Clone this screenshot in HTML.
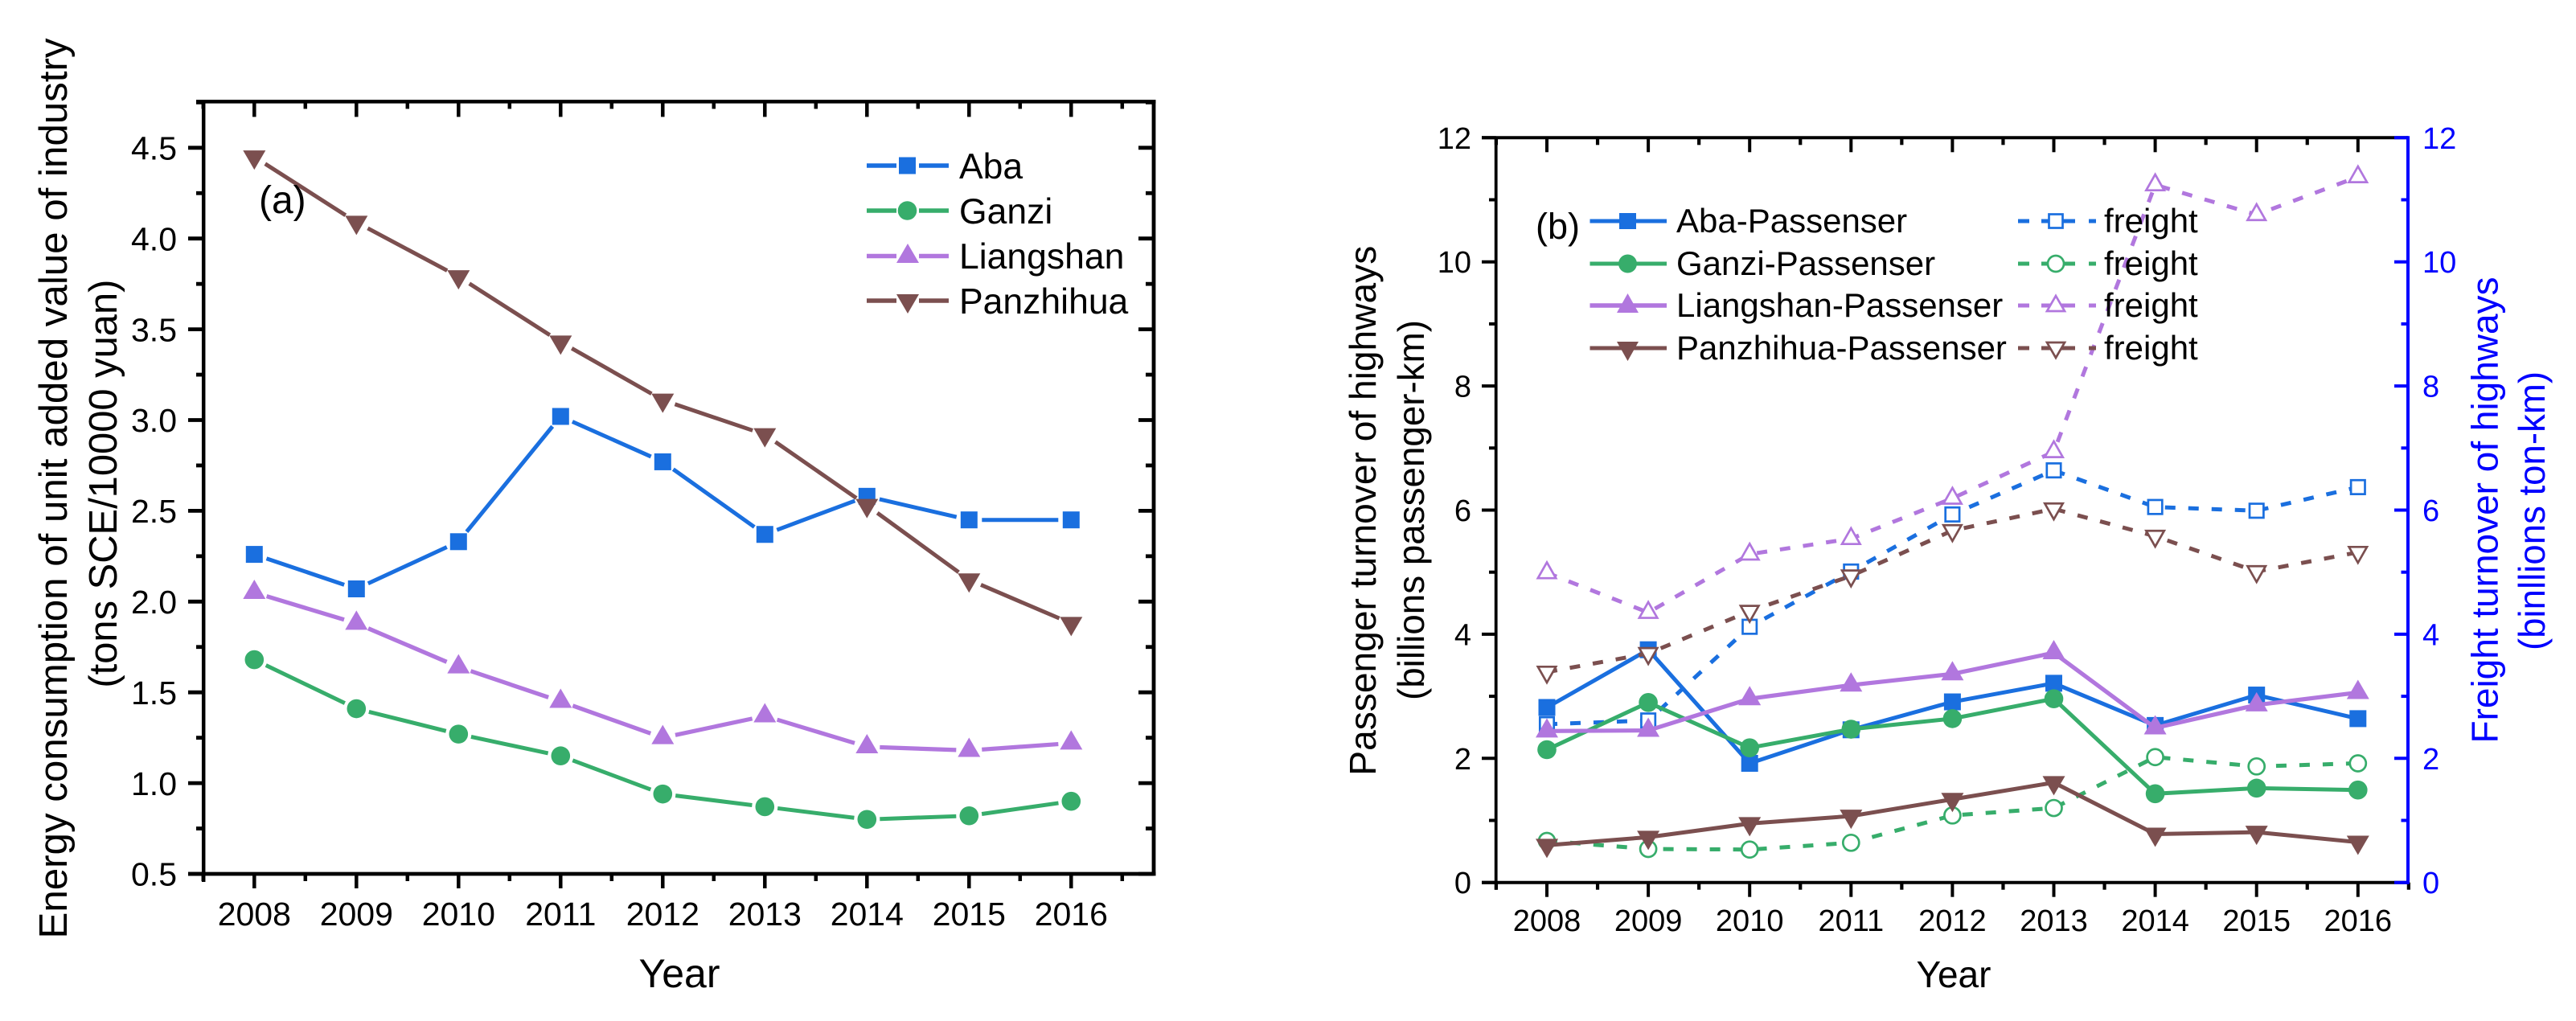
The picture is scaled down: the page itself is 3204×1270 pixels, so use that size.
<!DOCTYPE html>
<html lang="en">
<head>
<meta charset="utf-8">
<title>Energy consumption and highway turnover charts</title>
<style>
html,body{margin:0;padding:0;background:#fff;}
svg{display:block;}
text{font-family:"Liberation Sans",Arial,sans-serif;fill:#000;}
.blue{fill:#0000ff;}
</style>
</head>
<body>
<svg id="figure" xmlns="http://www.w3.org/2000/svg" width="3204" height="1270" viewBox="0 0 3204 1270">
  <rect x="0" y="0" width="3204" height="1270" fill="#ffffff"/>

  <g id="chart-a">
    <g id="axes-a"></g>
    <g id="marks-a"></g>
    <text transform="translate(83,1167.5) rotate(-90)" font-size="49" textLength="1120" lengthAdjust="spacingAndGlyphs">Energy consumption of unit added value of industry</text>
    <text transform="translate(145,855.6) rotate(-90)" font-size="49" textLength="508" lengthAdjust="spacingAndGlyphs">(tons SCE/10000 yuan)</text>
    <text x="845" y="1228" font-size="50" text-anchor="middle">Year</text>
    <text x="322" y="265" font-size="48">(a)</text>
    <g>
      <g>
        <path d="M1078 206H1115M1143 206H1180" stroke="#1a6fdf" stroke-width="5.500" fill="none"/>
        <rect x="1118" y="195.500" width="21" height="21" fill="#1a6fdf"/>
        <text x="1193" y="222" font-size="44.500">Aba</text>
      </g>
      <g>
        <path d="M1078 262H1115M1143 262H1180" stroke="#37ad6b" stroke-width="5.500" fill="none"/>
        <circle cx="1128.500" cy="262" r="11.800" fill="#37ad6b"/>
        <text x="1193" y="278" font-size="44.500">Ganzi</text>
      </g>
      <g>
        <path d="M1078 318.500H1115M1143 318.500H1180" stroke="#b177de" stroke-width="5.500" fill="none"/>
        <polygon points="1129,303 1143,327 1115,327" fill="#b177de"/>
        <text x="1193" y="334" font-size="44.500">Liangshan</text>
      </g>
      <g>
        <path d="M1078 374H1115M1143 374H1180" stroke="#7b4f4f" stroke-width="5.500" fill="none"/>
        <polygon points="1115,366 1143,366 1129,390" fill="#7b4f4f"/>
        <text x="1193" y="390" font-size="44.500">Panzhihua</text>
      </g>
    </g>
  </g>

  <g id="chart-b">
    <g id="axes-b"></g>
    <g id="marks-b"></g>
    <text transform="translate(1711,964.7) rotate(-90)" font-size="46" textLength="659" lengthAdjust="spacingAndGlyphs">Passenger turnover of highways</text>
    <text transform="translate(1771,871) rotate(-90)" font-size="46" textLength="473" lengthAdjust="spacingAndGlyphs">(billions passenger-km)</text>
    <text class="blue" transform="translate(3106.600,924.500) rotate(-90)" font-size="46" textLength="580" lengthAdjust="spacingAndGlyphs">Freight turnover of highways</text>
    <text class="blue" transform="translate(3165,809) rotate(-90)" font-size="46" textLength="347" lengthAdjust="spacingAndGlyphs">(binllions ton-km)</text>
    <text x="2430" y="1228" font-size="46" text-anchor="middle">Year</text>
    <text x="1910" y="297" font-size="45">(b)</text>
    <g>
      <g>
        <path d="M1977.500 275H2073" stroke="#1a6fdf" stroke-width="5" fill="none"/>
        <rect x="2014" y="265" width="21" height="20" fill="#1a6fdf"/>
        <text x="2085" y="289" font-size="42">Aba-Passenser</text>
      </g>
      <g>
        <path d="M1977.500 328H2073" stroke="#37ad6b" stroke-width="5" fill="none"/>
        <circle cx="2024.500" cy="328" r="11.500" fill="#37ad6b"/>
        <text x="2085" y="342" font-size="42">Ganzi-Passenser</text>
      </g>
      <g>
        <path d="M1977.500 380H2073" stroke="#b177de" stroke-width="5.500" fill="none"/>
        <polygon points="2024.500,365 2038,389 2011,389" fill="#b177de"/>
        <text x="2085" y="394" font-size="42">Liangshan-Passenser</text>
      </g>
      <g>
        <path d="M1977.500 433H2073" stroke="#7b4f4f" stroke-width="5" fill="none"/>
        <polygon points="2011,425 2038,425 2024.500,449" fill="#7b4f4f"/>
        <text x="2085" y="447" font-size="42">Panzhihua-Passenser</text>
      </g>
      <g>
        <path d="M2510 275H2524M2539 275H2581M2598 275H2607" stroke="#1a6fdf" stroke-width="5" fill="none"/>
        <rect x="2548.500" y="266.500" width="17" height="17" fill="#fff" stroke="#1a6fdf" stroke-width="2.700"/>
        <text x="2617" y="289" font-size="42">freight</text>
      </g>
      <g>
        <path d="M2510 328H2524M2539 328H2581M2598 328H2607" stroke="#37ad6b" stroke-width="5" fill="none"/>
        <circle cx="2557" cy="328" r="10" fill="#fff" stroke="#37ad6b" stroke-width="2.700"/>
        <text x="2617" y="342" font-size="42">freight</text>
      </g>
      <g>
        <path d="M2510 380H2524M2539 380H2581M2598 380H2607" stroke="#b177de" stroke-width="5" fill="none"/>
        <polygon points="2557,368 2568,387 2546,387" fill="#fff" stroke="#b177de" stroke-width="2.700"/>
        <text x="2617" y="394" font-size="42">freight</text>
      </g>
      <g>
        <path d="M2510 433H2524M2539 433H2581M2598 433H2607" stroke="#7b4f4f" stroke-width="5" fill="none"/>
        <polygon points="2546,426 2568,426 2557,445" fill="#fff" stroke="#7b4f4f" stroke-width="2.700"/>
        <text x="2617" y="447" font-size="42">freight</text>
      </g>
    </g>
  </g>
</svg>

<script>
// Shared categories
const years = [2008, 2009, 2010, 2011, 2012, 2013, 2014, 2015, 2016];
const minorYears = [2007.5, 2008.5, 2009.5, 2010.5, 2011.5, 2012.5, 2013.5, 2014.5, 2015.5, 2016.5];

// Chart (a): energy consumption
const aTickLabels = ['0.5', '1.0', '1.5', '2.0', '2.5', '3.0', '3.5', '4.0', '4.5'];
const aMinorTicks = [0.75, 1.25, 1.75, 2.25, 2.75, 3.25, 3.75, 4.25, 4.75];
const aAba = [2.26, 2.07, 2.33, 3.02, 2.77, 2.37, 2.58, 2.45, 2.45];
const aGanzi = [1.68, 1.41, 1.27, 1.15, 0.94, 0.87, 0.80, 0.82, 0.90];
const aLiangshan = [2.05, 1.88, 1.64, 1.45, 1.25, 1.37, 1.20, 1.18, 1.22];
const aPanzhihua = [4.45, 4.09, 3.79, 3.43, 3.11, 2.92, 2.53, 2.12, 1.88];

// Chart (b): passenger turnover (left axis)
const bTickLabels = ['0', '2', '4', '6', '8', '10', '12'];
const bMinorTicks = [1, 3, 5, 7, 9, 11];
const bAbaPassenger = [2.82, 3.75, 1.92, 2.46, 2.91, 3.21, 2.53, 3.02, 2.64];
const bGanziPassenger = [2.14, 2.90, 2.17, 2.47, 2.64, 2.96, 1.43, 1.52, 1.49];
const bLiangshanPassenger = [2.44, 2.45, 2.96, 3.18, 3.36, 3.70, 2.49, 2.86, 3.06];
const bPanzhihuaPassenger = [0.60, 0.73, 0.95, 1.07, 1.34, 1.61, 0.78, 0.81, 0.65];

// Chart (b): freight turnover (right axis)
const bAbaFreight = [2.55, 2.61, 4.12, 5.01, 5.93, 6.64, 6.05, 5.99, 6.37];
const bGanziFreight = [0.67, 0.54, 0.53, 0.64, 1.08, 1.20, 2.02, 1.87, 1.92];
const bLiangshanFreight = [4.99, 4.35, 5.29, 5.54, 6.19, 6.94, 11.24, 10.76, 11.37];
const bPanzhihuaFreight = [3.39, 3.69, 4.37, 4.94, 5.67, 6.02, 5.58, 5.01, 5.32];

const BLUE = '#1a6fdf', GREEN = '#37ad6b', PURPLE = '#b177de', BROWN = '#7b4f4f';
const NS = 'http://www.w3.org/2000/svg';

// Axis functions
function xA(year) { return 316.3 + (year - 2008) * 127; }
function yA(v) { return 1087 - (v - 0.5) * 225.8; }
function xB(year) { return 1924 + (year - 2008) * 126.1; }
function yB(v) { return 1097.7 - v * 77.2; }

function mk(tag, props, parent) {
  const el = document.createElementNS(NS, tag);
  for (const k in props) { el.setAttribute(k, props[k]); }
  parent.appendChild(el);
  return el;
}

function hLine(parent, x1, x2, y, color, w, name) {
  const el = mk('line', { x1: x1, x2: x2, y1: y, y2: y, stroke: color, 'stroke-width': w }, parent);
  
  
}

function vLine(parent, x, y1, y2, color, w, name) {
  const el = mk('line', { x1: x, x2: x, y1: y1, y2: y2, stroke: color, 'stroke-width': w }, parent);
  
  
}

function label(parent, x, y, str, size, anchor, color, name) {
  const el = mk('text', { x: x, y: y, 'font-size': size, 'text-anchor': anchor, style: 'fill:' + color }, parent);
  el.textContent = str;
  
  
}

// Draw one marker; shape and fill come from the series style
function marker(parent, shape, filled, x, y, color, name) {
  const sw = filled ? 0 : 2.7;
  const paint = { fill: filled ? color : '#ffffff', stroke: filled ? 'none' : color, 'stroke-width': sw };
  let el;
  if (shape === 'square') {
    const h = filled ? 10.5 : 8.7;
    el = mk('rect', Object.assign({ x: x - h, y: y - h, width: 2 * h, height: 2 * h }, paint), parent);
  } else if (shape === 'circle') {
    el = mk('circle', Object.assign({ cx: x, cy: y, r: filled ? 11.8 : 10 }, paint), parent);
  } else {
    const dir = shape === 'up' ? 1 : -1;
    const hw = filled ? 14 : 11.2;
    const apex = filled ? 16 : 13;
    const base = filled ? 8 : 6.7;
    const pts = [[x, y - dir * apex], [x + hw, y + dir * base], [x - hw, y + dir * base]];
    el = mk('polygon', Object.assign({ points: pts.map(p => p.join(',')).join(' ') }, paint), parent);
  }
  
  
}

// ---------- Chart (a) axes ----------
const axA = document.getElementById('axes-a');
const aLeft = 253.2, aRight = 1435, aTop = 126.4, aBottom = yA(0.5);
hLine(axA, 234, aRight + 2.5, aBottom, '#000', 4.8, 'chart-a-x-axis-line');
hLine(axA, 244, aRight + 2.5, aTop, '#000', 4.5, 'chart-a-top-axis-line');
vLine(axA, aLeft, aTop, aBottom + 10, '#000', 4.5, 'chart-a-y-axis-line');
vLine(axA, aRight, aTop, aBottom, '#000', 4.8, 'chart-a-right-axis-line');
years.forEach(function (yr) {
  vLine(axA, xA(yr), aBottom, aBottom + 18, '#000', 4.5, 'chart-a-x-tick');
  vLine(axA, xA(yr), aTop, aTop + 19, '#000', 4.5, 'chart-a-top-tick');
  label(axA, xA(yr), 1151, String(yr), 41, 'middle', '#000', 'chart-a-x-tick-label');
});
minorYears.forEach(function (yr) {
  vLine(axA, xA(yr), aBottom, aBottom + 9, '#000', 4.5, 'chart-a-x-minor-tick');
  vLine(axA, xA(yr), aTop, aTop + 9, '#000', 4.5, 'chart-a-top-minor-tick');
});
aTickLabels.forEach(function (txt) {
  const v = parseFloat(txt);
  hLine(axA, 234, aLeft, yA(v), '#000', 4.8, 'chart-a-y-tick');
  hLine(axA, aRight - 19, aRight, yA(v), '#000', 4.8, 'chart-a-right-tick');
  label(axA, 220, yA(v) + 14.7, txt, 41, 'end', '#000', 'chart-a-y-tick-label');
});
aMinorTicks.forEach(function (v) {
  hLine(axA, 244, aLeft, yA(v), '#000', 4.8, 'chart-a-y-minor-tick');
  hLine(axA, aRight - 10, aRight, yA(v), '#000', 4.8, 'chart-a-right-minor-tick');
});

// ---------- Chart (a) series: lines stop short of each marker ----------
const marksA = document.getElementById('marks-a');
function drawSeriesA(values, color, shape, width, name) {
  const g = mk('g', {}, marksA);
  
  
  const gap = 16;
  for (let i = 0; i < values.length - 1; i++) {
    const x1 = xA(years[i]), y1 = yA(values[i]);
    const x2 = xA(years[i + 1]), y2 = yA(values[i + 1]);
    const len = Math.hypot(x2 - x1, y2 - y1);
    const ux = (x2 - x1) / len, uy = (y2 - y1) / len;
    const seg = mk('line', {
      x1: x1 + ux * gap, y1: y1 + uy * gap,
      x2: x2 - ux * gap, y2: y2 - uy * gap,
      stroke: color, 'stroke-width': width
    }, g);
    
    
  }
  values.forEach(function (v, i) {
    marker(g, shape, true, xA(years[i]), yA(v), color, name + '-point');
  });
}
drawSeriesA(aAba, BLUE, 'square', 5, 'series-aba');
drawSeriesA(aGanzi, GREEN, 'circle', 5, 'series-ganzi');
drawSeriesA(aLiangshan, PURPLE, 'up', 5.2, 'series-liangshan');
drawSeriesA(aPanzhihua, BROWN, 'down', 5, 'series-panzhihua');

// ---------- Chart (b) axes ----------
const axB = document.getElementById('axes-b');
const bLeft = 1860.7, bRight = 2995, bTop = yB(12), bBottom = yB(0);
hLine(axB, 1843, bRight, bBottom, '#000', 4, 'chart-b-x-axis-line');
hLine(axB, 1843, bRight, bTop, '#000', 4, 'chart-b-top-axis-line');
vLine(axB, bLeft, bTop, bBottom + 9, '#000', 3.8, 'chart-b-left-axis-line');
years.forEach(function (yr) {
  vLine(axB, xB(yr), bBottom, bBottom + 18, '#000', 4, 'chart-b-x-tick');
  vLine(axB, xB(yr), bTop, bTop + 18, '#000', 4, 'chart-b-top-tick');
  label(axB, xB(yr), 1158, String(yr), 38, 'middle', '#000', 'chart-b-x-tick-label');
});
minorYears.forEach(function (yr) {
  vLine(axB, xB(yr), bBottom, bBottom + 9, '#000', 4.2, 'chart-b-x-minor-tick');
  if (yr < 2016.5) {
    vLine(axB, xB(yr), bTop, bTop + 9, '#000', 4.2, 'chart-b-top-minor-tick');
  }
});
vLine(axB, bRight, bTop - 2, bBottom + 2, '#0000ff', 4, 'chart-b-right-axis-line');
bTickLabels.forEach(function (txt) {
  const v = parseFloat(txt);
  hLine(axB, 1843, bLeft, yB(v), '#000', 4, 'chart-b-left-tick');
  hLine(axB, bRight - 17, bRight, yB(v), '#0000ff', 4, 'chart-b-right-tick');
  label(axB, 1830, yB(v) + 13.5, txt, 38, 'end', '#000', 'chart-b-left-tick-label');
  label(axB, 3013, yB(v) + 13.5, txt, 38, 'start', '#0000ff', 'chart-b-right-tick-label');
});
bMinorTicks.forEach(function (v) {
  hLine(axB, 1852, bLeft, yB(v), '#000', 4, 'chart-b-left-minor-tick');
  hLine(axB, bRight - 8.5, bRight, yB(v), '#0000ff', 4, 'chart-b-right-minor-tick');
});

// ---------- Chart (b) series ----------
const marksB = document.getElementById('marks-b');
function drawSeriesB(values, color, shape, filled, width, name) {
  const g = mk('g', {}, marksB);
  
  
  const path = mk('polyline', {
    points: values.map(function (v, i) { return xB(years[i]) + ',' + yB(v); }).join(' '),
    fill: 'none',
    stroke: color,
    'stroke-width': width,
    'stroke-dasharray': filled ? 'none' : '13 16'
  }, g);
  
  
  values.forEach(function (v, i) {
    marker(g, shape, filled, xB(years[i]), yB(v), color, name + '-point');
  });
}
drawSeriesB(bAbaPassenger, BLUE, 'square', true, 5, 'series-aba-passenger');
drawSeriesB(bAbaFreight, BLUE, 'square', false, 5, 'series-aba-freight');
drawSeriesB(bGanziPassenger, GREEN, 'circle', true, 5, 'series-ganzi-passenger');
drawSeriesB(bGanziFreight, GREEN, 'circle', false, 5, 'series-ganzi-freight');
drawSeriesB(bLiangshanPassenger, PURPLE, 'up', true, 5.2, 'series-liangshan-passenger');
drawSeriesB(bLiangshanFreight, PURPLE, 'up', false, 5, 'series-liangshan-freight');
drawSeriesB(bPanzhihuaPassenger, BROWN, 'down', true, 5, 'series-panzhihua-passenger');
drawSeriesB(bPanzhihuaFreight, BROWN, 'down', false, 5, 'series-panzhihua-freight');
</script>
</body>
</html>
